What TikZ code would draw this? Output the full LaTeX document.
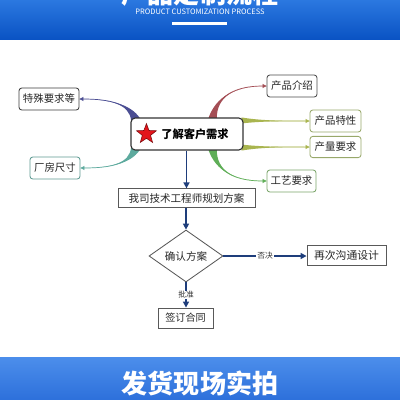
\documentclass[tikz,border=0pt]{standalone}
\usepackage{fontspec}
\setmainfont{Noto Sans CJK SC}
\usetikzlibrary{arrows.meta, shapes.geometric, calc, backgrounds}
\definecolor{fnavy}{HTML}{1E3D7B}
\definecolor{btop}{HTML}{2B78E0}
\definecolor{bbot}{HTML}{0A53C4}
\definecolor{ftop}{HTML}{4C8EEB}
\definecolor{fbot}{HTML}{2D70DB}
\definecolor{cspec}{HTML}{4B4E93}
\definecolor{cplant}{HTML}{5DAA9E}
\definecolor{cintro}{HTML}{A44E55}
\definecolor{cfeat}{HTML}{A9B54F}
\definecolor{ccraft}{HTML}{5FAE57}
\definecolor{bspec}{HTML}{3C3C3C}
\definecolor{bplant}{HTML}{5E9A92}
\definecolor{bintro}{HTML}{4A4A4A}
\definecolor{bfeat}{HTML}{98A86A}
\definecolor{bcraft}{HTML}{7AA56A}
\definecolor{fred}{HTML}{E3151B}
\tikzset{
  leaf/.style={draw=#1, fill=white, rounded corners=2pt, line width=0.6pt,
               inner sep=0pt, font=\fontsize{7.4}{9}\selectfont, text=black!85},
  hub/.style={draw=black!80, fill=white, rounded corners=3pt, line width=0.8pt,
              inner sep=0pt, font=\fontsize{8}{10}\selectfont\bfseries},
  flowbox/.style={draw=black!65, fill=white, line width=0.6pt, inner sep=0pt,
                  font=\fontsize{7.5}{9}\selectfont, text=black!85},
  farr/.style={-{Triangle[length=1.5mm,width=1.5mm]}, line width=1.1pt, fnavy},
  tag/.style={fill=white, inner sep=0.6pt, font=\fontsize{5.5}{6}\selectfont, text=black!80},
}
% tapered mind map branch: colour, start, control 1, control 2, end, half width
\newcommand\taper[6]{%
  \fill[#1] ($#2+#6$) .. controls #3 and #4 .. #5 .. controls #4 and #3 .. ($#2-#6$) -- cycle;
  \draw[#1, line width=0.5pt, -{Triangle[length=2.8pt,width=2.8pt]}] #2 .. controls #3 and #4 .. #5;
}
\begin{document}
\begin{tikzpicture}[x=0.25mm, y=-0.25mm]
  \useasboundingbox (0,0) rectangle (400,400);

  % header band
  \shade[top color=btop, bottom color=bbot] (0,0) rectangle (400,39);
  \begin{scope}
    \clip (0,0) rectangle (400,39);
    \node[text=white, font=\fontsize{18.5}{20}\selectfont\bfseries] (title) at (200,-6) {产品定制流程};
  \end{scope}
  \node[text=white, font=\fontsize{5.3}{6}\selectfont] (subtitle) at (200,12) {PRODUCT CUSTOMIZATION PROCESS};
  \draw[white, line width=0.55mm] (172,23.5) -- (227,23.5);

  % mind map
  \node[hub, minimum width=28mm, minimum height=8mm] (need) at (187,134) {\hspace*{4mm}了解客户需求};
  \node[star, star points=5, star point ratio=2.4, fill=fred, draw=fred!55!black,
        line width=0.4pt, minimum size=5.2mm, inner sep=0pt] (star) at ($(need.west)+(16,0)$) {};
  \node[leaf=bspec, minimum width=15mm, minimum height=5.5mm] (spec) at (49,99) {特殊要求等};
  \node[leaf=bplant, minimum width=12.5mm, minimum height=5.5mm] (plant) at (55,168) {厂房尺寸};
  \node[leaf=bintro, minimum width=12.5mm, minimum height=5.5mm] (intro) at (292,86) {产品介绍};
  \node[leaf=bfeat, minimum width=12.75mm, minimum height=5.5mm] (feat) at (335.5,121) {产品特性};
  \node[leaf=bfeat, minimum width=12.75mm, minimum height=5.3mm] (qty) at (335.5,147) {产量要求};
  \node[leaf=bcraft, minimum width=12.25mm, minimum height=5.5mm] (craft) at (291.5,181) {工艺要求};

  \begin{scope}[on background layer]
    \fill[white] (0,39) rectangle (400,357);
    \taper{cspec}{($(need.north west)+(5,2)$)}{(130,104)}{(110,99)}{(spec.east)}{(4.3,-1.6)}
    \taper{cplant}{($(need.south west)+(5,-2)$)}{(130,164)}{(110,168)}{(plant.east)}{(4.3,1.6)}
    \taper{cintro}{($(need.north west)+(82,2)$)}{(216,96)}{(235,86)}{(intro.west)}{(4.3,0.5)}
    \taper{ccraft}{($(need.south west)+(82,-2)$)}{(216,172)}{(235,181)}{(craft.west)}{(4.3,-0.5)}
    \taper{cfeat}{($(need.north east)+(-2,3)$)}{(262,121)}{(290,121)}{(feat.west)}{(0,3)}
    \taper{cfeat}{($(need.south east)+(-2,-3)$)}{(262,147)}{(290,147)}{(qty.west)}{(0,3)}
  \end{scope}

  % flow
  \node[flowbox, minimum width=34.25mm, minimum height=4.6mm] (plan) at (186.5,198) {我司技术工程师规划方案};
  \node[flowbox, diamond, minimum width=18.5mm, minimum height=9.5mm] (check) at (186,256) {确认方案};
  \node[flowbox, minimum width=19.75mm, minimum height=5mm, font=\fontsize{7.7}{9}\selectfont] (redo) at (346.5,255) {再次沟通设计};
  \node[flowbox, minimum width=13.75mm, minimum height=5mm, font=\fontsize{7.2}{9}\selectfont] (sign) at (185.5,318) {签订合同};

  \draw[farr] (need.south -| plan.north) -- (plan.north);
  \draw[farr] (plan.south -| check.north) -- (check.north);
  \draw[farr] (check.east) -- (check.east -| redo.west) node[tag, midway] {否决};
  \draw[farr] (check.south) -- (check.south |- sign.north) node[tag, midway] {批准};

  % footer band
  \shade[top color=ftop, bottom color=fbot] (0,357) rectangle (400,400);
  \node[text=white, font=\fontsize{18.5}{20}\selectfont\bfseries] (footer) at (200,383) {发货现场实拍};
\end{tikzpicture}
\end{document}
